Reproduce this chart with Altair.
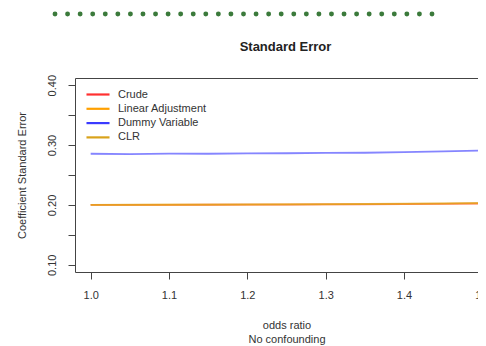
import altair as alt
import pandas as pd

# ---- data ----
odds_ratio = [1.00, 1.05, 1.10, 1.15, 1.20, 1.25, 1.30, 1.35, 1.40, 1.45, 1.50]
crude = [0.2000, 0.2000, 0.2002, 0.2003, 0.2005, 0.2006, 0.2008, 0.2010, 0.2015, 0.2018, 0.2022]
linear_adj = [0.2001, 0.2002, 0.2003, 0.2004, 0.2006, 0.2008, 0.2010, 0.2013, 0.2018, 0.2022, 0.2028]
dummy_var = [0.2855, 0.2850, 0.2856, 0.2855, 0.2860, 0.2863, 0.2870, 0.2872, 0.2882, 0.2893, 0.2910]
clr = [0.2002, 0.2003, 0.2004, 0.2006, 0.2008, 0.2010, 0.2013, 0.2016, 0.2021, 0.2027, 0.2035]

series_names = ["Crude", "Linear Adjustment", "Dummy Variable", "CLR"]
series_colors = ["#ff3030", "#ffa000", "#3a3aff", "#d9a21b"]

y_ticks = [0.10, 0.15, 0.20, 0.25, 0.30, 0.35, 0.40]
x_ticks = [1.0, 1.1, 1.2, 1.3, 1.4, 1.5]
dot_index = list(range(31))
title_text = ["Standard Error"]

FONT = "Liberation Sans"
TEXT = "#333333"

rows = []
for name, vals in zip(series_names, [crude, linear_adj, dummy_var, clr]):
    for x, v in zip(odds_ratio, vals):
        rows.append({"odds": x, "se": v, "series": name})
df = pd.DataFrame(rows)

dots_df = pd.DataFrame({"i": dot_index})
title_df = pd.DataFrame({"t": title_text})

lines = alt.Chart(df).mark_line(strokeWidth=1.8, opacity=0.62).encode(
    x=alt.X(
        "odds:Q",
        scale=alt.Scale(domain=[0.98, 1.52], nice=False, zero=False),
        axis=alt.Axis(
            values=x_ticks, format=".1f", title=["odds ratio", "No confounding"],
            labelPadding=10, titlePadding=19, titleLineHeight=14,
        ),
    ),
    y=alt.Y(
        "se:Q",
        scale=alt.Scale(domain=[0.088, 0.412], nice=False, zero=False),
        axis=alt.Axis(
            values=y_ticks,
            labelExpr="abs(round(datum.value * 100) % 10) < 0.5 ? format(datum.value, '.2f') : ''",
            title="Coefficient Standard Error",
            labelAngle=270, labelAlign="center", labelBaseline="bottom",
            labelPadding=11, titlePadding=19,
        ),
    ),
    color=alt.Color(
        "series:N",
        scale=alt.Scale(domain=series_names, range=series_colors),
        legend=alt.Legend(
            orient="none", legendX=15.5, legendY=9, title=None,
            symbolType="M-1.92,0L1.92,0", symbolSize=144, symbolStrokeWidth=2.2,
            labelFontSize=11, labelOffset=12.5, rowPadding=1.3, padding=0,
            labelFont=FONT, labelColor=TEXT, symbolOpacity=1,
        ),
    ),
)

dots = alt.Chart(dots_df).mark_circle(size=24, color="#3b7a3b", opacity=1).encode(
    x=alt.X("i:Q", scale=alt.Scale(domain=[0, 30], range=[-20, 357], nice=False, zero=False), axis=None),
    y=alt.value(-64),
)

title = alt.Chart(title_df).mark_text(
    font=FONT, fontSize=13, fontWeight="bold", color="#222222",
    align="center", baseline="middle",
).encode(
    text="t:N",
    x=alt.value(210.5),
    y=alt.value(-31),
)

chart = alt.layer(lines, dots, title).resolve_scale(x="independent").properties(
    width=423,
    height=194,
    autosize=alt.AutoSizeParams(type="none"),
    padding={"left": 67, "top": 70, "right": -20, "bottom": 74},
    background="white",
).configure_view(
    stroke="#444444", strokeWidth=1
).configure_axis(
    domain=False, grid=False, tickSize=7, tickColor="#444444", tickWidth=1,
    labelFont=FONT, labelFontSize=11, labelColor=TEXT,
    titleFont=FONT, titleFontSize=11, titleFontWeight="normal", titleColor=TEXT,
)

chart.save("out.html", embed_options={"renderer": "svg", "actions": False})
